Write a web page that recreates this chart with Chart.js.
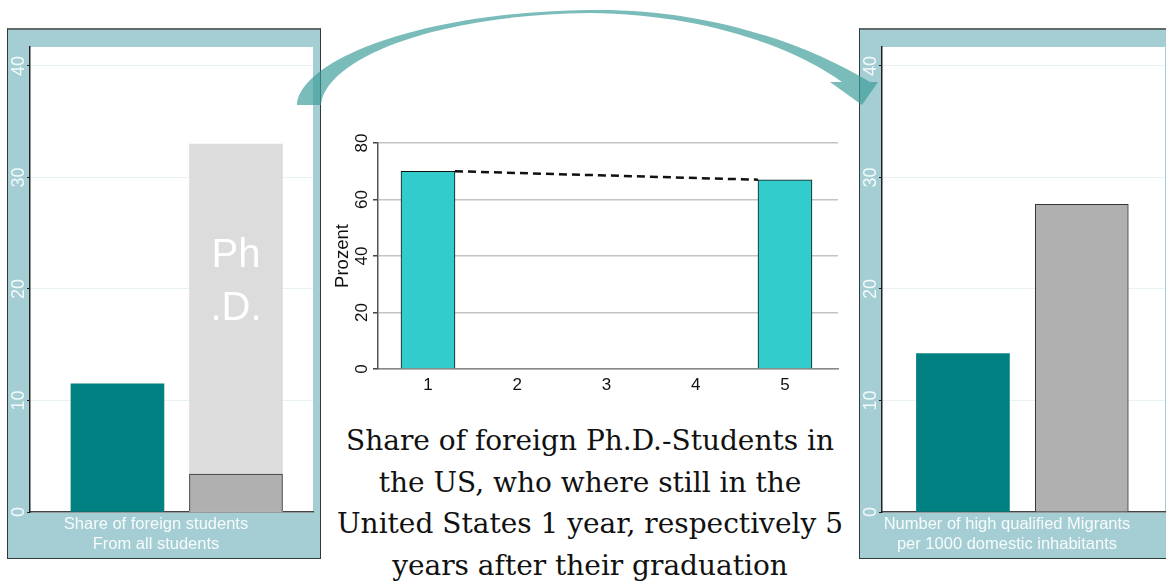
<!DOCTYPE html>
<html lang="en">
<head>
<meta charset="utf-8">
<title>Foreign Ph.D. students in the US</title>
<script src="https://cdn.jsdelivr.net/npm/chart.js@4.4.1/dist/chart.umd.min.js"></script>
<style>
  html, body { margin: 0; padding: 0; width: 1166px; height: 583px; overflow: hidden; background: #fff; }
  .panel { position: absolute; top: 28px; width: 314px; height: 531px; box-sizing: border-box;
           background: #a5ced4; border: 1px solid #2f3b3b; border-top: 2px solid #5f6b6b; }
  .panel canvas { position: absolute; left: 0; top: 0; }
  #leftPanel { left: 7px; }
  #rightPanel { left: 859px; }
  .axisNote { position: absolute; top: 513px; width: 320px; text-align: center; color: #f6fbfb;
              font: 16.5px/20px 'Liberation Sans', Arial, sans-serif; white-space: nowrap; }
  #midWrap { position: absolute; left: 325px; top: 120px; }
  #caption { position: absolute; left: 310px; top: 420px; width: 560px; text-align: center;
             font: 28px/41.7px 'DejaVu Serif', serif; color: #111; white-space: nowrap; }
  #arrow { position: absolute; left: 0; top: 0; pointer-events: none; }
</style>
</head>
<body>
<div id="caption">Share of foreign Ph.D.-Students in<br>the US, who where still in the<br>United States 1 year, respectively 5<br>years after their graduation</div>

<div class="panel" id="leftPanel"><canvas id="leftChart" width="312" height="528"></canvas></div>
<div class="panel" id="rightPanel"><canvas id="rightChart" width="312" height="528"></canvas></div>
<div id="midWrap"><canvas id="midChart" width="520" height="280"></canvas></div>

<div class="axisNote" style="left:-4px">Share of foreign students<br>From all students</div>
<div class="axisNote" style="left:847px">Number of high qualified Migrants<br>per 1000 domestic inhabitants</div>

<svg id="arrow" width="1166" height="583" viewBox="0 0 1166 583">
  <path d="M297 105 C300 60 420 12 589 10 C700 8 800 40 870 82 L878 82 L862 105 L830 82 L842 82
           C790 45 700 14 589 13 C430 15 325 60 321 105 Z"
        fill="rgb(58,156,154)" fill-opacity="0.68"/>
</svg>

<script>
// Left panel: share of foreign students (all students / Ph.D. students)
const shareGroups = [1, 2];
const shareAll = [11.5, 3.4];
const sharePhD = [null, 33.0];

// Middle: foreign Ph.D. graduates still in the US, percent, by years after graduation
const years = [1, 2, 3, 4, 5];
const stayRate = [70, null, null, null, 67];

// Right panel: high qualified migrants per 1000 domestic inhabitants
const migrantGroups = [1, 2];
const migrantsPer1000 = [14.2, 27.6];

// Tick values
const panelTicks = [0, 10, 20, 30, 40];
const percentTicks = [0, 20, 40, 60, 80];

const TEAL = '#008080';
const GREY = '#b0b0b0';
const LIGHT = '#dcdcdc';
const TURQ = '#33cccc';

Chart.defaults.font.family = "'Liberation Sans', Arial, sans-serif";
Chart.defaults.animation = false;
Chart.defaults.responsive = false;
Chart.defaults.plugins.legend.display = false;
Chart.defaults.plugins.tooltip.enabled = false;

// white plotting region inside the coloured frame
const plotBackground = {
  id: 'plotBackground',
  beforeDraw(chart) {
    const a = chart.chartArea, c = chart.ctx;
    c.save();
    c.fillStyle = '#ffffff';
    c.fillRect(a.left, a.top, a.right - a.left, a.bottom - a.top);
    c.restore();
  }
};

// "Ph.D." written inside the light grey bar
const phdLabel = {
  id: 'phdLabel',
  afterDatasetsDraw(chart) {
    const bar = chart.getDatasetMeta(1).data[sharePhD.findIndex(v => v !== null)];
    if (!bar) return;
    const c = chart.ctx;
    c.save();
    c.fillStyle = '#ffffff';
    c.font = "40px 'Liberation Sans', Arial, sans-serif";
    c.textAlign = 'center';
    c.textBaseline = 'alphabetic';
    c.fillText('Ph', bar.x, 237);
    c.fillText('.D.', bar.x, 290);
    c.restore();
  }
};

// dashed connector between the tops of the two bars
const stayLine = {
  id: 'stayLine',
  afterDatasetsDraw(chart) {
    const meta = chart.getDatasetMeta(0);
    const bars = stayRate.map((v, i) => (v === null ? null : meta.data[i])).filter(Boolean);
    if (bars.length < 2) return;
    const a = bars[0], b = bars[bars.length - 1];
    const c = chart.ctx;
    c.save();
    c.beginPath();
    c.setLineDash([8, 5]);
    c.lineWidth = 2.5;
    c.strokeStyle = '#111';
    c.moveTo(a.x + a.width / 2, a.y);
    c.lineTo(b.x - b.width / 2, b.y);
    c.stroke();
    c.restore();
  }
};

function panelY() {
  return {
    min: 0, max: 41.7,
    afterFit(s) { s.width = 22; },
    afterBuildTicks(s) { s.ticks = panelTicks.map(v => ({ value: v })); },
    ticks: { minRotation: 90, maxRotation: 90, crossAlign: 'center', padding: -2,
             color: '#f4fafa', font: { size: 18 } },
    grid: { color: '#e8f2f2', lineWidth: 1, tickColor: '#222', tickLength: 3 },
    border: { color: '#222', width: 1.5 }
  };
}

function panelX(groups, min, max) {
  return {
    type: 'linear', min, max, offset: false,
    afterFit(s) { s.height = 46; },
    afterBuildTicks(s) { s.ticks = groups.map(v => ({ value: v })); },
    ticks: { display: false },
    grid: { display: false, drawTicks: false, offset: false },
    border: { color: '#444', width: 1.5 }
  };
}

const panelBar = { grouped: false, barPercentage: 1, categoryPercentage: 1, maxBarThickness: 93 };

new Chart(document.getElementById('leftChart'), {
  type: 'bar',
  data: {
    datasets: [
      Object.assign({ data: shareGroups.map((x, i) => ({ x, y: shareAll[i] })),
        backgroundColor: [TEAL, GREY], borderColor: [TEAL, '#333'], borderWidth: [0, 1], order: 0 }, panelBar),
      Object.assign({ data: shareGroups.map((x, i) => ({ x, y: sharePhD[i] })),
        backgroundColor: LIGHT, borderWidth: 0, order: 1 }, panelBar)
    ]
  },
  options: {
    layout: { padding: { top: 17, right: 7, bottom: 0, left: 0 } },
    scales: { x: panelX(shareGroups, 0.262, 2.65), y: panelY() }
  },
  plugins: [plotBackground, phdLabel]
});

new Chart(document.getElementById('rightChart'), {
  type: 'bar',
  data: {
    datasets: [
      Object.assign({ data: migrantGroups.map((x, i) => ({ x, y: migrantsPer1000[i] })),
        backgroundColor: [TEAL, GREY], borderColor: [TEAL, '#333'], borderWidth: [0, 1] }, panelBar)
    ]
  },
  options: {
    layout: { padding: { top: 17, right: 7, bottom: 0, left: 0 } },
    scales: { x: panelX(migrantGroups, 0.319, 2.70), y: panelY() }
  },
  plugins: [plotBackground]
});

new Chart(document.getElementById('midChart'), {
  type: 'bar',
  data: {
    datasets: [
      { data: years.map((x, i) => ({ x, y: stayRate[i] })),
        backgroundColor: TURQ, borderColor: '#111', borderWidth: 1, barThickness: 54 }
    ]
  },
  options: {
    layout: { padding: { top: 23, right: 7, bottom: 0, left: 0 } },
    scales: {
      x: {
        type: 'linear', min: 0.44, max: 5.594, offset: false,
        afterFit(s) { s.height = 31; },
        afterBuildTicks(s) { s.ticks = years.map(v => ({ value: v })); },
        ticks: { color: '#111', font: { size: 17 }, padding: 6 },
        grid: { display: false, drawTicks: false, offset: false },
        border: { color: '#888', width: 1.5 }
      },
      y: {
        min: 0, max: 80,
        afterFit(s) { s.width = 53; },
        afterBuildTicks(s) { s.ticks = percentTicks.map(v => ({ value: v })); },
        ticks: { minRotation: 90, maxRotation: 90, crossAlign: 'center', padding: 1,
                 color: '#111', font: { size: 17 } },
        grid: { color: '#c4c4c4', lineWidth: 1.5, tickColor: '#444', tickLength: 5 },
        border: { color: '#555', width: 1.5 },
        title: { display: true, text: 'Prozent', color: '#111', font: { size: 18.5 },
                 padding: { top: 7, bottom: 0 } }
      }
    }
  },
  plugins: [stayLine]
});
</script>
</body>
</html>
